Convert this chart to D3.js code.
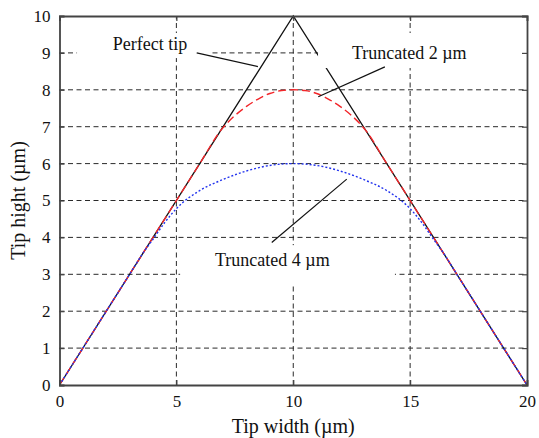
<!DOCTYPE html>
<html>
<head>
<meta charset="utf-8">
<script src="https://cdn.jsdelivr.net/npm/d3@7"></script>
<style>
  body { margin: 0; background: #fff; }
  svg { display: block; }
  text { font-family: "Liberation Serif", "Times New Roman", serif; fill: #111; }
</style>
</head>
<body>
<div id="chart"></div>
<script>
// values
const xTicks = [0, 5, 10, 15, 20];
const yTicks = [0, 1, 2, 3, 4, 5, 6, 7, 8, 9, 10];
const xGrid = [5, 10, 15];
const yGrid = [1, 2, 3, 4, 5, 6, 7, 8, 9];

const perfectX = [0, 10, 20];
const perfectY = [0, 10, 0];

const trunc2X = [0, 6, 6.9, 7.5, 8, 8.5, 9, 9.5, 10, 10.5, 11, 11.5, 12, 12.5, 13.1, 14, 20];
const trunc2Y = [0, 6, 6.9, 7.3, 7.55, 7.75, 7.9, 7.98, 8, 7.98, 7.9, 7.75, 7.55, 7.3, 6.9, 6, 0];

const trunc4X = [0, 3, 3.6, 4, 4.5, 5, 6, 7, 8, 9, 10, 11, 12, 13, 14, 15, 15.5, 16, 16.4, 17, 20];
const trunc4Y = [0, 3, 3.6, 3.95, 4.4, 4.78, 5.27, 5.57, 5.8, 5.95, 6, 5.95, 5.8, 5.57, 5.27, 4.78, 4.4, 3.95, 3.6, 3, 0];

const labels = ['Perfect tip', 'Truncated 2 \u00b5m', 'Truncated 4 \u00b5m'];

const width = 539, height = 438;
const margin = { top: 16, right: 12, bottom: 53, left: 59.5 };

const x = d3.scaleLinear().domain([0, 20]).range([margin.left, width - margin.right]);
const y = d3.scaleLinear().domain([0, 10]).range([height - margin.bottom, margin.top]);

const svg = d3.select('#chart').append('svg')
  .attr('width', width)
  .attr('height', height);

// grid (dashed, MATLAB style)
const grid = svg.append('g')
  .attr('stroke', '#2a2a2a')
  .attr('stroke-width', 1)
  .attr('stroke-dasharray', '5,3.5');

grid.selectAll('line.v')
  .data(xGrid)
  .join('line')
  .attr('class', 'v')
  .attr('x1', d => x(d)).attr('x2', d => x(d))
  .attr('y1', y(0)).attr('y2', y(10));

grid.selectAll('line.h')
  .data(yGrid)
  .join('line')
  .attr('class', 'h')
  .attr('x1', x(0)).attr('x2', x(20))
  .attr('y1', d => y(d)).attr('y2', d => y(d));

// curves
const line = d3.line().x(d => x(d[0])).y(d => y(d[1]));
const smooth = d3.line().x(d => x(d[0])).y(d => y(d[1])).curve(d3.curveMonotoneX);

svg.append('path')
  .datum(d3.zip(perfectX, perfectY))
  .attr('fill', 'none')
  .attr('stroke', '#111')
  .attr('stroke-width', 1.3)
  .attr('d', line);

svg.append('path')
  .datum(d3.zip(trunc2X, trunc2Y))
  .attr('fill', 'none')
  .attr('stroke', '#f2262a')
  .attr('stroke-width', 1.4)
  .attr('stroke-dasharray', '8,4')
  .attr('d', smooth);

svg.append('path')
  .datum(d3.zip(trunc4X, trunc4Y))
  .attr('fill', 'none')
  .attr('stroke', '#2233ee')
  .attr('stroke-width', 1.4)
  .attr('stroke-dasharray', '2,2')
  .attr('d', smooth);

// annotation text boxes (white background) + leader lines, in data units
const boxes = [
  { x0: 0.75, x1: 6.52, y0: 8.86, y1: 9.54 },
  { x0: 11.06, x1: 19.9, y0: 8.59, y1: 9.54 },
  { x0: 5.16, x1: 14.35, y0: 2.74, y1: 3.79 }
];
const texts = [
  { x: 3.87, y: 9.09, anchor: 'middle' },
  { x: 12.51, y: 8.83, anchor: 'start' },
  { x: 6.65, y: 3.23, anchor: 'start' }
];
const leaders = [
  [[5.87, 9.0], [8.49, 8.63]],
  [[13.92, 8.62], [11.07, 7.81]],
  [[9.08, 3.86], [12.29, 5.58]]
];

svg.append('g').selectAll('rect')
  .data(boxes)
  .join('rect')
  .attr('x', d => x(d.x0))
  .attr('y', d => y(d.y1))
  .attr('width', d => x(d.x1) - x(d.x0))
  .attr('height', d => y(d.y0) - y(d.y1))
  .attr('fill', '#fff');

svg.append('g')
  .attr('stroke', '#111')
  .attr('stroke-width', 1.2)
  .selectAll('path')
  .data(leaders)
  .join('path')
  .attr('d', line);

svg.append('g').selectAll('text')
  .data(texts)
  .join('text')
  .attr('x', d => x(d.x))
  .attr('y', d => y(d.y))
  .attr('text-anchor', d => d.anchor)
  .style('font-size', '18px')
  .text((d, i) => labels[i]);

// axes: box with inward ticks
const tickLen = 5;
const axisColor = '#444';

const xAxis = svg.append('g')
  .attr('transform', `translate(0,${y(0)})`)
  .call(d3.axisBottom(x).tickValues(xTicks).tickSize(-tickLen).tickPadding(10).tickFormat(d3.format('d')));
const xAxisTop = svg.append('g')
  .attr('transform', `translate(0,${y(10)})`)
  .call(d3.axisTop(x).tickValues(xTicks).tickSize(-tickLen).tickFormat(''));
const yAxis = svg.append('g')
  .attr('transform', `translate(${x(0)},0)`)
  .call(d3.axisLeft(y).tickValues(yTicks).tickSize(-tickLen).tickPadding(9).tickFormat(d3.format('d')));
const yAxisRight = svg.append('g')
  .attr('transform', `translate(${x(20)},0)`)
  .call(d3.axisRight(y).tickValues(yTicks).tickSize(-tickLen).tickFormat(''));

[xAxis, xAxisTop, yAxis, yAxisRight].forEach(g => {
  g.select('.domain').attr('stroke', axisColor).attr('stroke-width', 1.8);
  g.selectAll('.tick line').attr('stroke', axisColor).attr('stroke-width', 1.2);
  g.selectAll('.tick text')
    .attr('fill', '#111')
    .style('font-family', '"Liberation Serif", "Times New Roman", serif')
    .style('font-size', '17px');
});

// axis titles
svg.append('text')
  .attr('x', (x(0) + x(20)) / 2)
  .attr('y', 433)
  .attr('text-anchor', 'middle')
  .style('font-size', '20px')
  .text('Tip width (\u00b5m)');

svg.append('text')
  .attr('transform', `translate(25,${(y(0) + y(10)) / 2}) rotate(-90)`)
  .attr('text-anchor', 'middle')
  .style('font-size', '20px')
  .text('Tip hight (\u00b5m)');
</script>
</body>
</html>
